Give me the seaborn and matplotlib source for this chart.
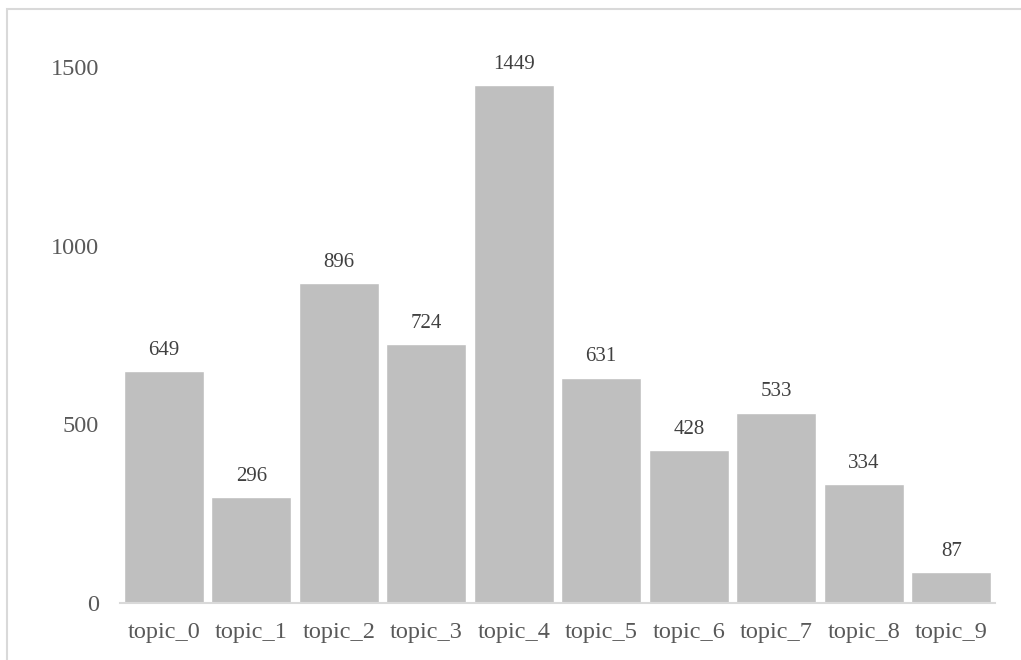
import matplotlib
matplotlib.use("Agg")
import matplotlib.pyplot as plt
import seaborn as sns
import pandas as pd
from matplotlib.patches import Rectangle

topics = ["topic_0", "topic_1", "topic_2", "topic_3", "topic_4",
          "topic_5", "topic_6", "topic_7", "topic_8", "topic_9"]
counts = [649, 296, 896, 724, 1449, 631, 428, 533, 334, 87]
yticks = [0, 500, 1000, 1500]

sns.set_style("white")
plt.rcParams["font.family"] = ["Liberation Serif", "DejaVu Serif"]

W, H = 1021, 660
fig = plt.figure(figsize=(W / 100, H / 100), dpi=100)
ax = fig.add_axes([120 / W, (H - 603) / H, 875 / W, (603 - 67) / H])

df = pd.DataFrame({"topic": topics, "count": counts})
sns.barplot(data=df, x="topic", y="count", color="#BFBFBF", saturation=1,
            width=0.914, ax=ax)

ax.set_xlim(-0.5, 9.5)
ax.set_ylim(0, 1500)
ax.set_yticks(yticks)
ax.set_yticklabels([str(v) for v in yticks])
ax.set_xlabel("")
ax.set_ylabel("")

for s in ["top", "right", "left"]:
    ax.spines[s].set_visible(False)
ax.spines["bottom"].set_color("#D9D9D9")
ax.spines["bottom"].set_linewidth(1.5)

ax.tick_params(axis="y", length=0, pad=15, labelsize=17.5, labelcolor="#595959")
ax.tick_params(axis="x", length=0, pad=14, labelsize=17.5, labelcolor="#595959")

for c in ax.containers:
    labels = ax.bar_label(c, labels=[str(v) for v in counts], padding=8,
                          fontsize=15, color="#404040")
    for t in labels:
        t.set_clip_on(False)

fig.patches.append(Rectangle((7 / W, -0.1), 1.2, 1 - 9 / H + 0.1,
                             transform=fig.transFigure, fill=False,
                             edgecolor="#D9D9D9", linewidth=1.5))

fig.savefig("out.png", dpi=100, facecolor="white")
